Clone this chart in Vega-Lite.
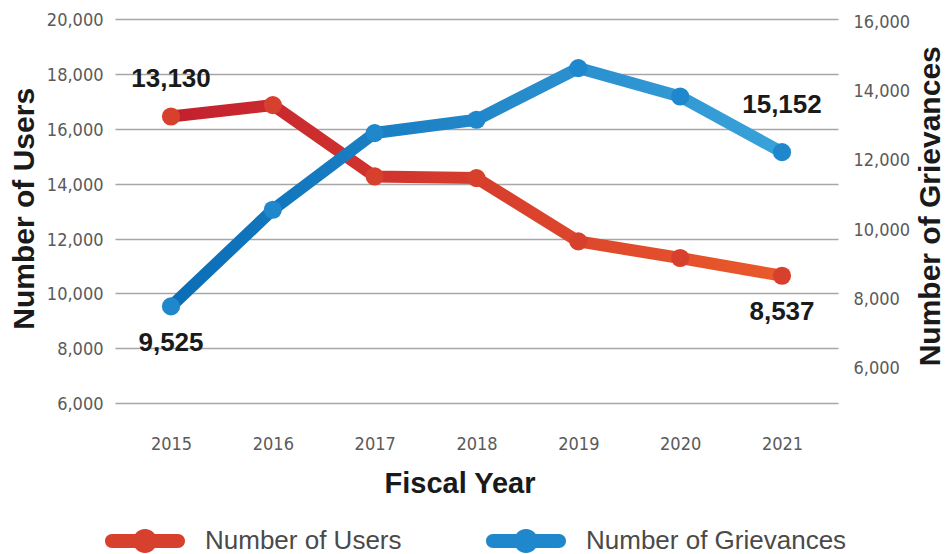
{
  "$schema": "https://vega.github.io/schema/vega-lite/v6.json",
  "width": 723,
  "height": 386,
  "autosize": {"type": "none"},
  "padding": {"left": 115, "top": 17, "right": 107, "bottom": 151},
  "background": "white",
  "config": {"view": {"stroke": null}},
  "data": {
    "values": [
      {"year": "2015", "series": "Number of Users", "value": 13130},
      {"year": "2016", "series": "Number of Users", "value": 13460},
      {"year": "2017", "series": "Number of Users", "value": 11401},
      {"year": "2018", "series": "Number of Users", "value": 11355},
      {"year": "2019", "series": "Number of Users", "value": 9527},
      {"year": "2020", "series": "Number of Users", "value": 9048},
      {"year": "2021", "series": "Number of Users", "value": 8537},
      {"year": "2015", "series": "Number of Grievances", "value": 9525},
      {"year": "2016", "series": "Number of Grievances", "value": 13051},
      {"year": "2017", "series": "Number of Grievances", "value": 15849},
      {"year": "2018", "series": "Number of Grievances", "value": 16334},
      {"year": "2019", "series": "Number of Grievances", "value": 18220},
      {"year": "2020", "series": "Number of Grievances", "value": 17184},
      {"year": "2021", "series": "Number of Grievances", "value": 15152}
    ]
  },
  "encoding": {
    "x": {
      "field": "year",
      "type": "ordinal",
      "scale": {"type": "point", "padding": 0.55},
      "axis": {
        "labelAngle": 0,
        "domain": false,
        "ticks": false,
        "tickSize": 0,
        "grid": false,
        "labelFont": "DejaVu Sans Condensed, sans-serif",
        "labelFontSize": 18,
        "labelColor": "#5a5a5a",
        "labelPadding": 32,
        "title": "Fiscal Year",
        "titleFont": "Liberation Sans",
        "titleFontWeight": "bold",
        "titleFontSize": 29,
        "titleColor": "#1a1a1a",
        "titleX": 344.5,
        "titleY": 89.7,
        "titleAlign": "center",
        "titleBaseline": "alphabetic"
      }
    }
  },
  "layer": [
    {
      "transform": [{"filter": "datum.series === 'Number of Users'"}],
      "encoding": {
        "y": {
          "field": "value",
          "type": "quantitative",
          "scale": {"domain": [4867, 16000], "nice": false, "zero": false},
          "axis": {
            "orient": "right",
            "values": [6000, 8000, 10000, 12000, 14000, 16000],
            "format": ",.0f",
            "grid": false,
            "domain": false,
            "ticks": false,
            "tickSize": 0,
            "labelFont": "DejaVu Sans Condensed, sans-serif",
            "labelFontSize": 18,
            "labelColor": "#5a5a5a",
            "labelPadding": 15,
            "labelOffset": 5,
            "labelBaseline": "middle",
            "title": "Number of Grievances",
            "titleFont": "Liberation Sans",
            "titleFontWeight": "bold",
            "titleFontSize": 30,
            "titleColor": "#1a1a1a",
            "titleAngle": 270,
            "titleX": 101,
            "titleY": 188.8,
            "titleAlign": "center",
            "titleBaseline": "alphabetic"
          }
        }
      },
      "layer": [
        {
          "mark": {
            "type": "line",
            "strokeWidth": 12,
            "strokeCap": "round",
            "strokeJoin": "round",
            "stroke": {
              "gradient": "linear",
              "x1": 0, "y1": 0, "x2": 1, "y2": 0,
              "stops": [
                {"offset": 0, "color": "#c3202f"},
                {"offset": 1, "color": "#ea5a2a"}
              ]
            }
          },
          "encoding": {}
        },
        {
          "mark": {"type": "point", "filled": true, "size": 330, "opacity": 1},
          "encoding": {
            "color": {
              "field": "series",
              "type": "nominal",
              "scale": {"domain": ["Number of Users", "Number of Grievances"], "range": ["#d8402e", "#1f87cb"]},
              "legend": {
                "orient": "none",
                "legendX": -10,
                "legendY": 484,
                "direction": "horizontal",
                "title": null,
                "padding": 0,
                "symbolType": "M-0.825,-0.175 L0.825,-0.175 A0.175,0.175 0 0 1 0.825,0.175 L-0.825,0.175 A0.175,0.175 0 0 1 -0.825,-0.175 Z M-0.3,0 A0.3,0.3 0 1 1 0.3,0 A0.3,0.3 0 1 1 -0.3,0 Z",
                "symbolSize": 6400,
                "symbolStrokeWidth": 0,
                "symbolOpacity": 1,
                "labelFont": "Liberation Sans",
                "labelFontSize": 26,
                "labelColor": "#4a4a4a",
                "labelOffset": 20,
                "labelLimit": 400,
                "columnPadding": 84
              }
            }
          }
        },
        {
          "transform": [{"filter": "datum.year === '2015'"}],
          "mark": {"type": "text", "dy": -38, "font": "Liberation Sans", "fontWeight": "bold", "fontSize": 26, "color": "#1a1a1a", "align": "center", "baseline": "middle"},
          "encoding": {"text": {"field": "value", "type": "quantitative", "format": ",.0f"}}
        },
        {
          "transform": [{"filter": "datum.year === '2021'"}],
          "mark": {"type": "text", "dy": 36, "font": "Liberation Sans", "fontWeight": "bold", "fontSize": 26, "color": "#1a1a1a", "align": "center", "baseline": "middle"},
          "encoding": {"text": {"field": "value", "type": "quantitative", "format": ",.0f"}}
        }
      ]
    },
    {
      "transform": [{"filter": "datum.series === 'Number of Grievances'"}],
      "encoding": {
        "y": {
          "field": "value",
          "type": "quantitative",
          "scale": {"domain": [6000, 20084], "nice": false, "zero": false},
          "axis": {
            "orient": "left",
            "values": [6000, 8000, 10000, 12000, 14000, 16000, 18000, 20000],
            "format": ",.0f",
            "grid": true,
            "gridColor": "#a6a6a6",
            "gridWidth": 1.5,
            "domain": false,
            "ticks": false,
            "tickSize": 0,
            "labelFont": "DejaVu Sans Condensed, sans-serif",
            "labelFontSize": 18,
            "labelColor": "#5a5a5a",
            "labelPadding": 12,
            "labelOffset": 1.5,
            "labelBaseline": "middle",
            "title": "Number of Users",
            "titleFont": "Liberation Sans",
            "titleFontWeight": "bold",
            "titleFontSize": 30,
            "titleColor": "#1a1a1a",
            "titleAngle": 270,
            "titleX": -81.7,
            "titleY": 191.3,
            "titleAlign": "center",
            "titleBaseline": "alphabetic"
          }
        }
      },
      "layer": [
        {
          "mark": {
            "type": "line",
            "strokeWidth": 12,
            "strokeCap": "round",
            "strokeJoin": "round",
            "stroke": {
              "gradient": "linear",
              "x1": 0, "y1": 0, "x2": 1, "y2": 0,
              "stops": [
                {"offset": 0, "color": "#0a6db7"},
                {"offset": 1, "color": "#3aa2da"}
              ]
            }
          },
          "encoding": {}
        },
        {
          "mark": {"type": "point", "filled": true, "size": 330, "opacity": 1},
          "encoding": {
            "color": {
              "field": "series",
              "type": "nominal",
              "scale": {"domain": ["Number of Users", "Number of Grievances"], "range": ["#d8402e", "#1f87cb"]}
            }
          }
        },
        {
          "transform": [{"filter": "datum.year === '2015'"}],
          "mark": {"type": "text", "dy": 37, "font": "Liberation Sans", "fontWeight": "bold", "fontSize": 26, "color": "#1a1a1a", "align": "center", "baseline": "middle"},
          "encoding": {"text": {"field": "value", "type": "quantitative", "format": ",.0f"}}
        },
        {
          "transform": [{"filter": "datum.year === '2021'"}],
          "mark": {"type": "text", "dy": -47, "font": "Liberation Sans", "fontWeight": "bold", "fontSize": 26, "color": "#1a1a1a", "align": "center", "baseline": "middle"},
          "encoding": {"text": {"field": "value", "type": "quantitative", "format": ",.0f"}}
        }
      ]
    }
  ],
  "resolve": {"scale": {"y": "independent"}}
}
